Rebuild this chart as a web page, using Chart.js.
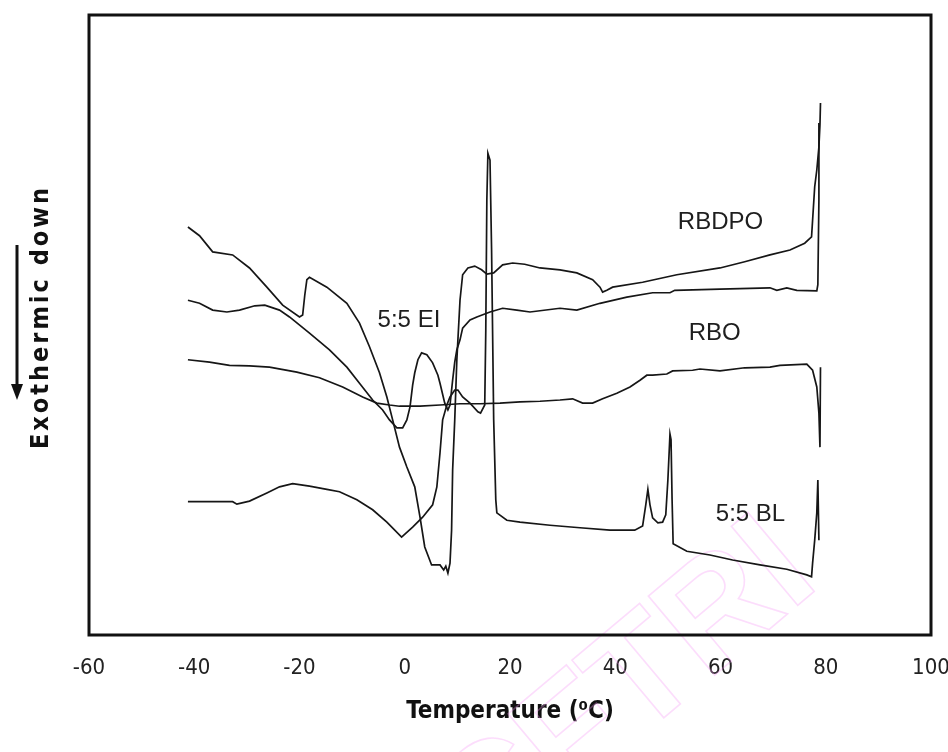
<!DOCTYPE html>
<html>
<head>
<meta charset="utf-8">
<title>DSC heating thermograms</title>
<script src="https://cdn.jsdelivr.net/npm/chart.js@4.4.0/dist/chart.umd.min.js"></script>
<style>
  body { margin: 0; background: #fff; }
</style>
</head>
<body>
<canvas id="myChart" width="948" height="752"></canvas>
<script>
// DSC curves, [temperature (C), heat flow (arbitrary units)]
const rbdpo = [
  [-41.2, 65.8], [-39.0, 64.4], [-36.5, 61.8], [-32.7, 61.3], [-29.5, 59.2], [-26.2, 56.1],
  [-23.2, 53.2], [-20.0, 51.3], [-19.4, 51.6], [-19.0, 54.8], [-18.6, 57.3], [-18.1, 57.7],
  [-14.8, 56.1], [-11.0, 53.5], [-8.6, 50.3], [-6.7, 46.5], [-4.8, 42.3], [-3.4, 38.4],
  [-2.3, 34.7], [-1.0, 30.3], [0.4, 27.1], [1.9, 23.9], [2.9, 19.0], [3.8, 14.2],
  [5.1, 11.3], [6.7, 11.3], [7.4, 10.5], [7.8, 11.1], [8.2, 10.0], [8.6, 11.6],
  [8.9, 16.9], [9.1, 26.6], [9.5, 34.7], [9.9, 44.4], [10.5, 54.0], [11.0, 58.1],
  [12.0, 59.2], [13.3, 59.5], [14.6, 58.9], [15.6, 58.2], [16.9, 58.4], [18.6, 59.7],
  [20.5, 60.0], [22.8, 59.8], [25.7, 59.2], [29.5, 58.9], [32.7, 58.4], [35.7, 57.3],
  [37.1, 56.1], [37.6, 55.3], [38.4, 55.6], [39.5, 56.1], [45.2, 56.9], [51.7, 58.1],
  [59.9, 59.2], [64.6, 60.2], [69.4, 61.3], [73.2, 62.1], [76.0, 63.2], [77.3, 64.2],
  [77.5, 66.9], [77.9, 72.3], [78.3, 75.0], [78.7, 78.7], [78.9, 82.3], [79.0, 85.8]
];

const ei55 = [
  [-41.2, 54.0], [-39.0, 53.5], [-36.5, 52.4], [-33.8, 52.1], [-31.4, 52.4], [-28.5, 53.1],
  [-26.6, 53.2], [-23.8, 52.4], [-21.9, 51.3], [-18.1, 48.7], [-14.3, 46.0], [-11.0, 43.2],
  [-8.6, 40.6], [-6.1, 37.9], [-4.2, 36.3], [-2.9, 34.7], [-1.5, 33.4], [-0.4, 33.4],
  [0.4, 34.7], [1.0, 36.8], [1.5, 40.3], [1.9, 42.3], [2.5, 44.4], [3.2, 45.5],
  [4.2, 45.2], [5.3, 43.9], [6.3, 41.9], [6.7, 40.6], [7.6, 37.4], [8.2, 36.3],
  [8.6, 37.1], [9.1, 41.1], [9.5, 44.0], [9.9, 46.0], [10.5, 47.6], [11.0, 49.5],
  [12.4, 50.8], [13.7, 51.3], [16.2, 52.1], [18.6, 52.7], [21.3, 52.4], [23.8, 52.1],
  [29.5, 52.7], [32.7, 52.4], [37.1, 53.5], [42.2, 54.5], [47.1, 55.2], [50.4, 55.2],
  [51.3, 55.6], [59.9, 55.8], [69.4, 56.0], [70.7, 55.6], [72.6, 56.0], [74.5, 55.6],
  [78.3, 55.5], [78.5, 56.5], [78.7, 70.2], [78.7, 82.6]
];

const rbo = [
  [-41.2, 44.4], [-37.1, 44.0], [-33.3, 43.5], [-29.5, 43.4], [-25.7, 43.2], [-20.5, 42.4],
  [-16.2, 41.5], [-11.8, 40.0], [-8.0, 38.4], [-5.3, 37.4], [-2.9, 37.1], [-1.0, 36.9],
  [2.9, 36.9], [6.7, 37.1], [10.5, 37.3], [14.3, 37.3], [18.1, 37.4], [21.9, 37.6],
  [25.7, 37.7], [29.5, 37.9], [31.9, 38.1], [33.8, 37.4], [35.7, 37.4], [37.6, 38.1],
  [40.3, 39.0], [42.8, 40.0], [44.7, 41.1], [46.0, 41.9], [47.1, 41.9], [49.8, 42.1],
  [50.9, 42.6], [54.7, 42.7], [56.1, 42.9], [59.9, 42.6], [64.6, 43.1], [69.4, 43.2],
  [71.3, 43.5], [76.4, 43.7], [77.5, 42.7], [78.3, 40.0], [78.7, 35.8], [78.9, 30.3],
  [79.0, 43.2]
];

const bl55 = [
  [-41.2, 21.5], [-32.7, 21.5], [-31.9, 21.1], [-29.5, 21.6], [-26.2, 22.9], [-23.8, 23.9],
  [-21.3, 24.4], [-18.1, 24.0], [-14.8, 23.5], [-12.4, 23.1], [-9.1, 21.8], [-6.1, 20.2],
  [-3.4, 18.2], [-0.6, 15.8], [1.5, 17.4], [3.4, 19.0], [5.3, 21.0], [6.1, 23.9],
  [6.7, 29.4], [7.2, 34.7], [8.0, 37.1], [8.6, 38.4], [9.5, 39.5], [10.1, 39.5],
  [11.0, 38.4], [12.4, 37.4], [13.9, 36.0], [14.4, 35.8], [15.2, 37.1], [15.4, 49.2],
  [15.6, 70.2], [15.8, 77.7], [16.2, 76.6], [16.5, 62.1], [16.9, 34.7], [17.3, 21.8],
  [17.5, 19.7], [19.4, 18.5], [21.9, 18.2], [27.6, 17.7], [33.3, 17.3], [39.0, 16.9],
  [43.7, 16.9], [45.2, 17.6], [45.8, 21.0], [46.2, 23.5], [46.6, 21.0], [47.1, 18.9],
  [48.1, 18.1], [49.0, 18.2], [49.6, 19.4], [50.0, 25.0], [50.4, 32.4], [50.6, 31.5],
  [50.8, 21.8], [51.0, 14.7], [53.6, 13.5], [58.0, 12.9], [62.3, 12.1], [67.5, 11.3],
  [72.6, 10.6], [76.4, 9.7], [77.3, 9.4], [77.5, 11.6], [77.9, 15.3], [78.3, 19.7],
  [78.5, 25.0], [78.7, 15.3]
];

const xTicks = [-60, -40, -20, 0, 20, 40, 60, 80, 100];

// curve names written next to each trace: [text, temperature, heat flow]
const curveNames = [
  ['RBDPO', 60.0, 66.6],
  ['RBO', 58.9, 48.7],
  ['5:5 EI', 0.8, 50.8],
  ['5:5 BL', 65.7, 19.4]
];

const narrow = "'Liberation Sans Narrow', 'Arial Narrow', 'DejaVu Sans Condensed', sans-serif";
const plain = "'Liberation Sans', Arial, sans-serif";

function toPoints(rows) {
  return rows.map(r => ({ x: r[0], y: r[1] }));
}

function trace(label, rows) {
  return {
    label: label,
    data: toPoints(rows),
    borderColor: '#161616',
    borderWidth: 1.7,
    pointRadius: 0,
    tension: 0,
    fill: false
  };
}

// frame, curve names, y title with arrow and the faint stamp
const decor = {
  id: 'decor',
  beforeDatasetsDraw(chart) {
    const c = chart.ctx;
    c.save();
    c.translate(822, 585);
    c.rotate(-40 * Math.PI / 180);
    c.font = 'bold 150px ' + plain;
    c.textAlign = 'right';
    c.textBaseline = 'alphabetic';
    c.strokeStyle = 'rgba(245, 150, 245, 0.32)';
    c.lineWidth = 1.6;
    c.strokeText('CFTRI', 0, 0);
    c.restore();
  },
  afterDraw(chart) {
    const c = chart.ctx;
    const a = chart.chartArea;
    const xs = chart.scales.x, ys = chart.scales.y;

    c.save();
    c.strokeStyle = '#111';
    c.lineWidth = 3;
    c.strokeRect(a.left, a.top, a.right - a.left, a.bottom - a.top);

    c.fillStyle = '#1e1e1e';
    c.font = '24px ' + plain;
    c.textAlign = 'center';
    c.textBaseline = 'middle';
    curveNames.forEach(n => {
      c.fillText(n[0], xs.getPixelForValue(n[1]), ys.getPixelForValue(n[2]));
    });

    // y axis title
    c.save();
    c.translate(41, 317);
    c.rotate(-Math.PI / 2);
    c.font = 'bold 25px ' + narrow;
    c.letterSpacing = '3px';
    c.fillStyle = '#111';
    c.fillText('Exothermic down', 0, 0);
    c.restore();

    // arrow pointing down
    c.lineWidth = 3;
    c.beginPath();
    c.moveTo(17, 245);
    c.lineTo(17, 386);
    c.stroke();
    c.beginPath();
    c.moveTo(11, 384);
    c.lineTo(23, 384);
    c.lineTo(17, 400);
    c.closePath();
    c.fillStyle = '#111';
    c.fill();
    c.restore();
  }
};

const ctx = document.getElementById('myChart');

new Chart(ctx, {
  type: 'line',
  data: {
    datasets: [
      trace('RBDPO', rbdpo),
      trace('5:5 EI', ei55),
      trace('RBO', rbo),
      trace('5:5 BL', bl55)
    ]
  },
  options: {
    responsive: false,
    animation: false,
    layout: { padding: { left: 89, right: 17, top: 15, bottom: 0 } },
    plugins: {
      legend: { display: false },
      tooltip: { enabled: false }
    },
    scales: {
      x: {
        type: 'linear',
        min: -60,
        max: 100,
        afterBuildTicks: function(scale) {
          scale.ticks = xTicks.map(v => ({ value: v }));
        },
        afterFit: function(scale) {
          scale.height = 117;
          scale.paddingLeft = 0;
          scale.paddingRight = 0;
        },
        ticks: {
          color: '#222',
          padding: 20,
          maxRotation: 0,
          font: { family: narrow, size: 22 }
        },
        grid: { display: false, drawTicks: false },
        border: { display: false },
        title: {
          display: true,
          text: 'Temperature (⁰C)',
          color: '#111',
          font: { family: narrow, size: 24, weight: 'bold' },
          padding: { top: 0, bottom: 26 }
        }
      },
      y: {
        display: false,
        min: 0,
        max: 100
      }
    }
  },
  plugins: [decor]
});
</script>
</body>
</html>
